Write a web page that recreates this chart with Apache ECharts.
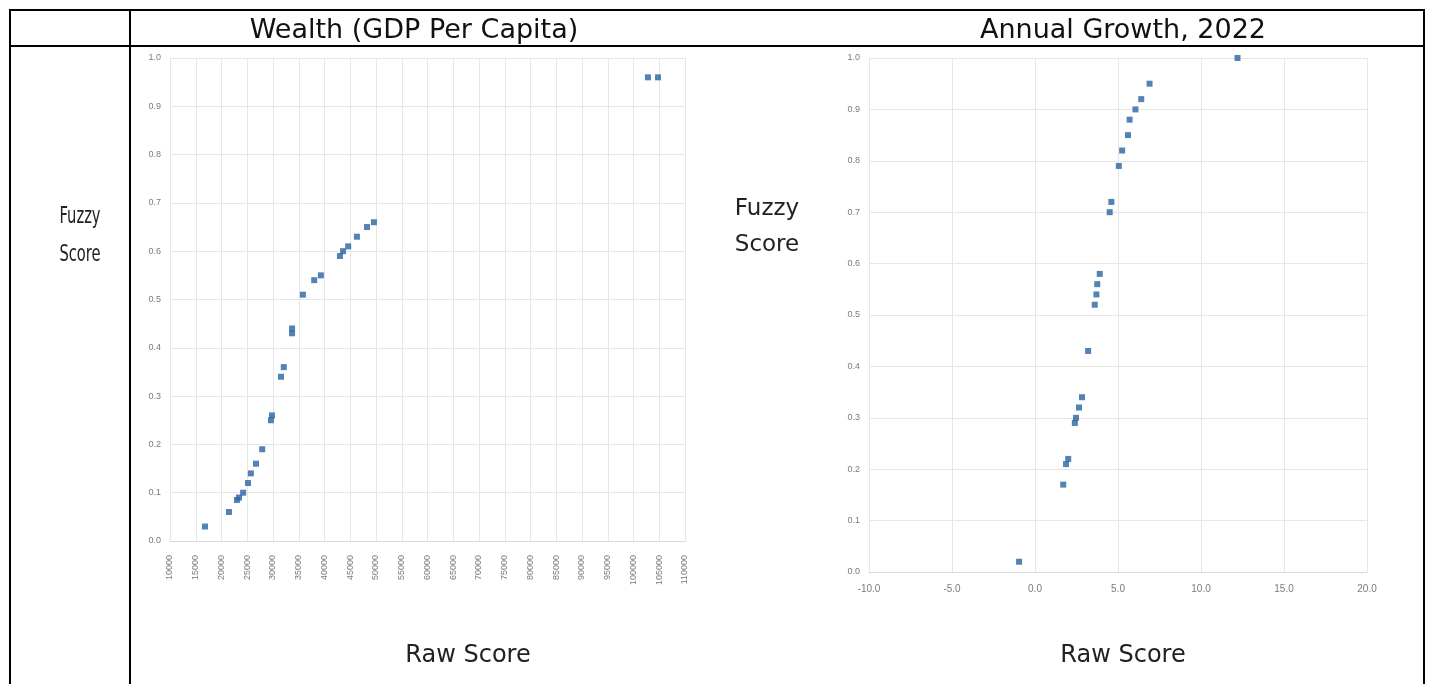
<!DOCTYPE html>
<html>
<head>
<meta charset="utf-8">
<script src="https://cdn.jsdelivr.net/npm/echarts@6/dist/echarts.min.js"></script>
<style>
html,body{margin:0;padding:0;background:#fff;}
#c{width:1432px;height:684px;}
</style>
</head>
<body>
<div id="c"></div>
<script>
// Wealth (GDP per capita) raw scores and fuzzy scores
const wealthRaw = [16800, 21450, 23000, 23400, 24200, 25150, 25700, 26700, 27900, 29600, 29800, 31550, 32100, 33700, 33700, 35800, 38000, 39300, 43000, 43600, 44600, 46300, 48250, 49600, 102800, 104750];
const wealthFuzzy = [0.03, 0.06, 0.085, 0.09, 0.10, 0.12, 0.14, 0.16, 0.19, 0.25, 0.26, 0.34, 0.36, 0.43, 0.44, 0.51, 0.54, 0.55, 0.59, 0.60, 0.61, 0.63, 0.65, 0.66, 0.96, 0.96];
// Annual growth 2022 raw scores and fuzzy scores
const growthRaw = [-0.96, 1.7, 1.87, 2.0, 2.4, 2.47, 2.65, 2.83, 3.2, 3.6, 3.7, 3.75, 3.9, 4.5, 4.6, 5.05, 5.25, 5.6, 5.7, 6.05, 6.4, 6.9, 12.2];
const growthFuzzy = [0.02, 0.17, 0.21, 0.22, 0.29, 0.30, 0.32, 0.34, 0.43, 0.52, 0.54, 0.56, 0.58, 0.70, 0.72, 0.79, 0.82, 0.85, 0.88, 0.90, 0.92, 0.95, 1.0];

const headerLeft = 'Wealth (GDP Per Capita)';
const headerRight = 'Annual Growth, 2022';
const yTitle = 'Fuzzy\nScore';
const xTitle = 'Raw Score';

const FONT = 'Liberation Sans';
const TFONT = 'DejaVu Sans';
const pointColor = '#2a63a2';
const gridColor = '#e6e6e6';
const labelColor = '#7a7a7a';

const chart = echarts.init(document.getElementById('c'));

function pairs(xs, ys){ return xs.map((x,i)=>[x, ys[i]]); }

const yAxisCommon = {
  type: 'value', min: 0, max: 1, interval: 0.1,
  axisLine: {show: false}, axisTick: {show: false},
  splitLine: {lineStyle: {color: gridColor, width: 1}},
  axisLabel: {color: labelColor, fontSize: 9, fontFamily: FONT, margin: 9, formatter: v => v.toFixed(1)}
};

chart.setOption({
  animation: false,
  grid: [
    {left: 170, top: 58, width: 515, height: 483},
    {left: 869, top: 58, width: 498, height: 514}
  ],
  xAxis: [
    {
      gridIndex: 0, type: 'value', min: 10000, max: 110000, interval: 5000,
      axisLine: {show: true, lineStyle: {color: '#d9d9d9'}}, axisTick: {show: false},
      splitLine: {lineStyle: {color: gridColor, width: 1}},
      axisLabel: {color: labelColor, fontSize: 9, fontFamily: FONT, rotate: 90, margin: 14, formatter: v => String(v)}
    },
    {
      gridIndex: 1, type: 'value', min: -10, max: 20, interval: 5,
      axisLine: {show: true, lineStyle: {color: '#d9d9d9'}}, axisTick: {show: false},
      splitLine: {lineStyle: {color: gridColor, width: 1}},
      axisLabel: {color: labelColor, fontSize: 10, fontFamily: FONT, margin: 12, formatter: v => v.toFixed(1)}
    }
  ],
  yAxis: [
    Object.assign({gridIndex: 0}, yAxisCommon),
    Object.assign({gridIndex: 1}, yAxisCommon)
  ],
  series: [
    {type: 'scatter', xAxisIndex: 0, yAxisIndex: 0, data: pairs(wealthRaw, wealthFuzzy),
     symbol: 'rect', symbolSize: 6, itemStyle: {color: pointColor}},
    {type: 'scatter', xAxisIndex: 1, yAxisIndex: 1, data: pairs(growthRaw, growthFuzzy),
     symbol: 'rect', symbolSize: 6, itemStyle: {color: pointColor}}
  ],
  graphic: [
    // table borders
    {type: 'line', shape: {x1: 9, y1: 10, x2: 1424, y2: 10}, style: {stroke: '#000', lineWidth: 2}},
    {type: 'line', shape: {x1: 9, y1: 46, x2: 1424, y2: 46}, style: {stroke: '#000', lineWidth: 2}},
    {type: 'line', shape: {x1: 10, y1: 9, x2: 10, y2: 684}, style: {stroke: '#000', lineWidth: 2}},
    {type: 'line', shape: {x1: 130, y1: 9, x2: 130, y2: 684}, style: {stroke: '#000', lineWidth: 2}},
    {type: 'line', shape: {x1: 1424, y1: 9, x2: 1424, y2: 684}, style: {stroke: '#000', lineWidth: 2}},
    // headers
    {type: 'text', x: 414, y: 31, style: {text: headerLeft, font: '27px ' + TFONT, fill: '#111', align: 'center', verticalAlign: 'middle'}},
    {type: 'text', x: 1123, y: 31, style: {text: headerRight, font: '27px ' + TFONT, fill: '#111', align: 'center', verticalAlign: 'middle'}},
    // y titles
    {type: 'text', x: 80, y: 236, scaleX: 0.64, originX: 0, originY: 0,
     style: {text: yTitle, font: '23px ' + TFONT, fill: '#222', align: 'center', verticalAlign: 'middle', lineHeight: 38}},
    {type: 'text', x: 767, y: 227, style: {text: yTitle, font: '23px ' + TFONT, fill: '#222', align: 'center', verticalAlign: 'middle', lineHeight: 36}},
    // x titles
    {type: 'text', x: 468, y: 656, style: {text: xTitle, font: '24px ' + TFONT, fill: '#222', align: 'center', verticalAlign: 'middle'}},
    {type: 'text', x: 1123, y: 656, style: {text: xTitle, font: '24px ' + TFONT, fill: '#222', align: 'center', verticalAlign: 'middle'}}
  ]
});
</script>
</body>
</html>
